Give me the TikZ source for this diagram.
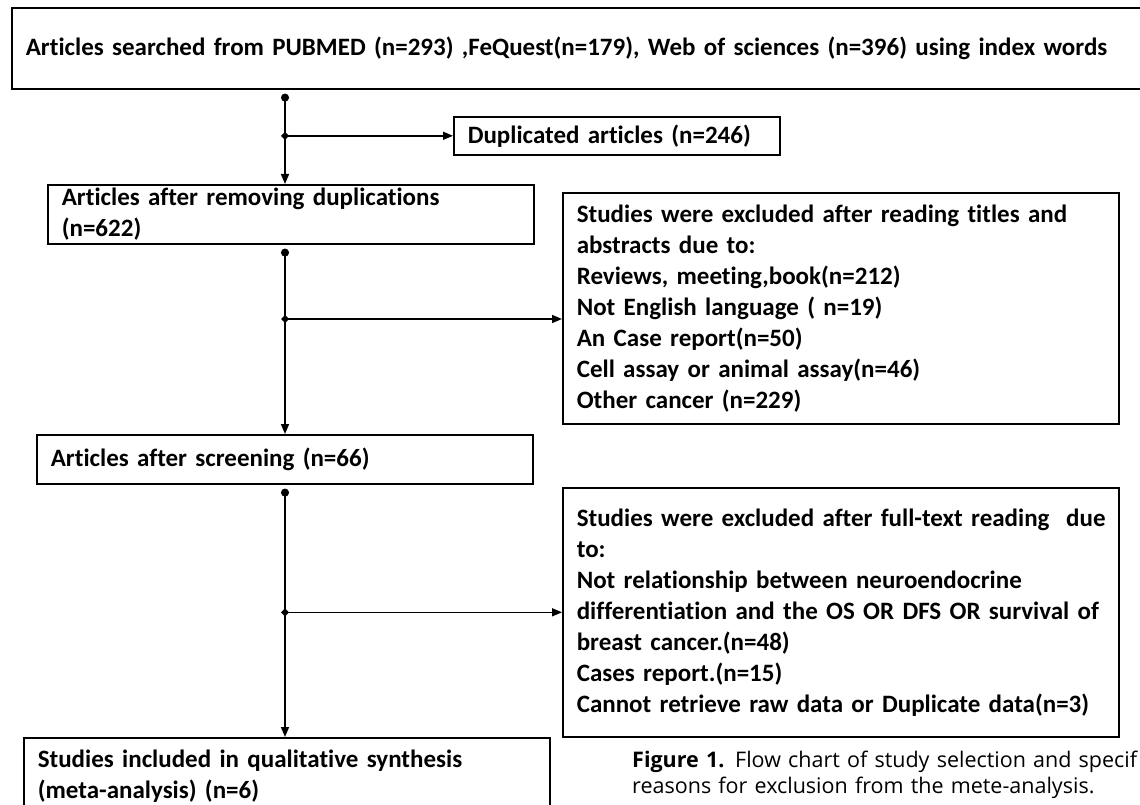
\documentclass[tikz,border=0pt]{standalone}
\usepackage{fontspec}
\setmainfont[Ligatures=NoCommon]{Carlito}
\newfontfamily\capfont{Open Sans}
\usetikzlibrary{arrows.meta}

\begin{document}
\begin{tikzpicture}[
                x=1pt, y=-1pt,
                box/.style={draw, line width=1.6pt, anchor=north west, inner xsep=14pt, inner ysep=0pt, align=left, font=\fontsize{25}{31}\selectfont\bfseries}, % framed step
                flow/.style={line width=1.5pt, shorten <=4pt, {Circle[length=8pt]}-{Triangle[length=10pt,width=8pt]}}, % down the column
                side/.style={line width=1.5pt, {Diamond[length=8pt,width=8pt]}-{Triangle[length=10pt,width=8pt]}} % out to the right
                ]
                \useasboundingbox (0,0) rectangle (1140,805);
                \fill[white] (0,0) rectangle (1140,805);

                \node[box, text width=1112pt, minimum height=81pt] (search) at (11,7)
                    {Articles searched from PUBMED (n=293) ,FeQuest(n=179), Web of sciences (n=396) using index words};
                \node[box, text width=298pt, minimum height=38pt] (dup) at (453,116)
                    {Duplicated articles (n=246)};
                \node[box, text width=458pt, minimum height=59pt] (removed) at (47,184)
                    {Articles after removing duplications\\(n=622)};
                \node[box, text width=528pt, minimum height=231pt] (excl1) at (562,192)
                    {Studies were excluded after reading titles and\\abstracts due to:\\Reviews, meeting,book(n=212)\\Not English language ( n=19)\\An Case report(n=50)\\Cell assay or animal assay(n=46)\\Other cancer (n=229)};
                \node[box, text width=468pt, minimum height=49pt] (screened) at (36,434)
                    {Articles after screening (n=66)};
                \node[box, text width=528pt, minimum height=249pt] (excl2) at (562,487)
                    {\mbox{Studies were excluded after full-text reading\ \ due}\\to:\\Not relationship between neuroendocrine\\\mbox{differentiation and the OS OR DFS OR survival of}\\breast cancer.(n=48)\\Cases report.(n=15)\\\mbox{Cannot retrieve raw data or Duplicate data(n=3)}};
                \node[box, text width=498pt, minimum height=76pt] (included) at (23,737)
                    {Studies included in qualitative synthesis\\(meta-analysis) (n=6)};
                \node[anchor=north west, inner sep=0pt, align=left, text width=500pt, font=\capfont\fontsize{21.5}{26}\selectfont] (caption) at (632,751)
                    {\mbox{\textbf{Figure 1.} Flow chart of study selection and specif}\\reasons for exclusion from the mete-analysis.};

                % column and branch points
                \coordinate (spine) at (285,0);
                \coordinate (j1) at (spine |- dup.west);
                \coordinate (j2) at (285,319);
                \coordinate (j3) at (spine |- excl2.west);

                \draw[flow] (search.south -| spine) -- (removed.north -| spine);
                \draw[flow] (removed.south -| spine) -- (screened.north -| spine);
                \draw[flow] (screened.south -| spine) -- (included.north -| spine);

                \draw[side] ([xshift=-4pt]j1) -- (dup.west);
                \draw[side] ([xshift=-4pt]j2) -- (excl1.west |- j2);
                \draw[side] ([xshift=-4pt]j3) -- (excl2.west);
            \end{tikzpicture}
\end{document}
